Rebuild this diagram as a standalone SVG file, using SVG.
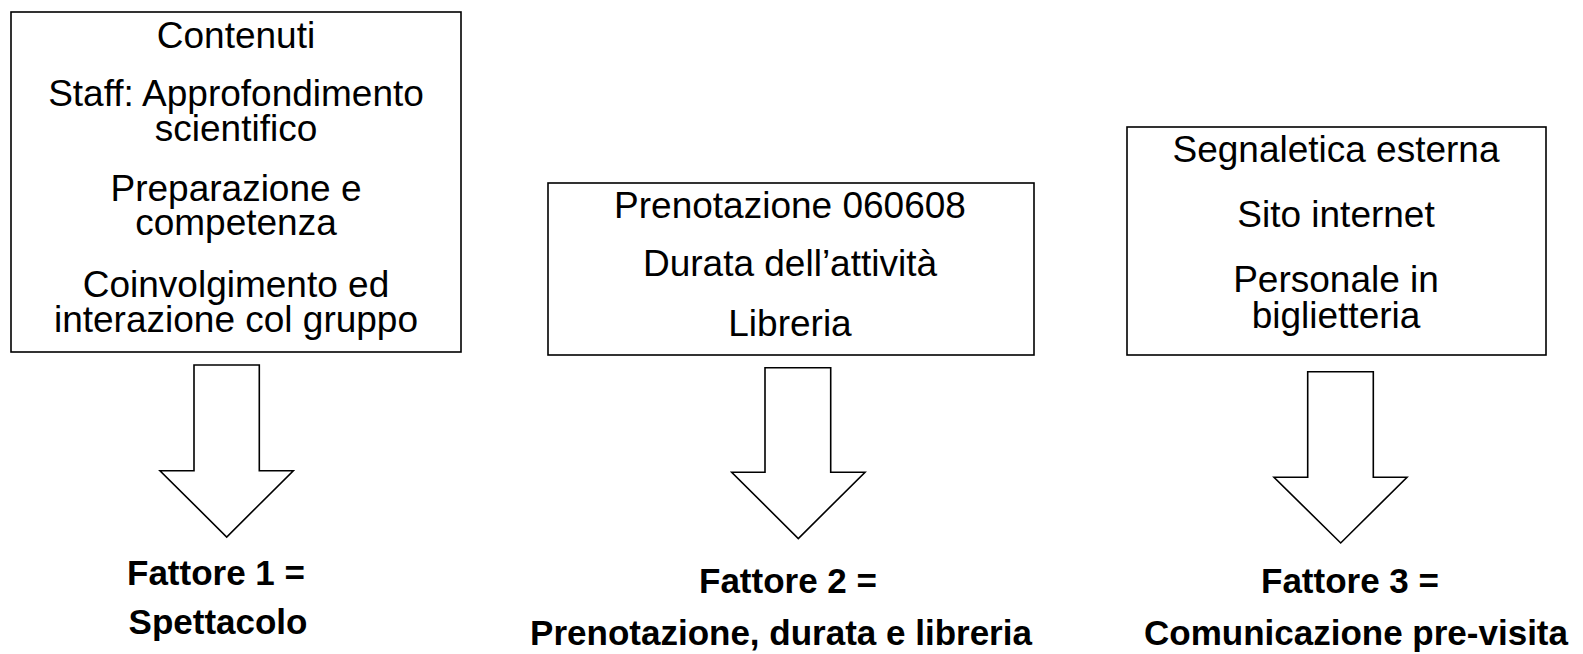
<svg xmlns="http://www.w3.org/2000/svg" width="1583" height="654" viewBox="0 0 1583 654">
<style>
.box{fill:#fff;stroke:#000;stroke-width:1.6}
.arr{fill:#fff;stroke:#000;stroke-width:1.6;stroke-linejoin:miter}
.t{font-family:"Liberation Sans",Arial,sans-serif;font-size:37px;fill:#000;text-anchor:middle}
.b{font-family:"Liberation Sans",Arial,sans-serif;font-size:35px;font-weight:bold;fill:#000;text-anchor:middle}
</style>
<rect width="1583" height="654" fill="#fff"/>
<g id="node-box1">
<rect class="box" x="11" y="12" width="450" height="340"/>
<text class="t" x="236" y="48">Contenuti</text>
<text class="t" x="236" y="106">Staff: Approfondimento</text>
<text class="t" x="236" y="141">scientifico</text>
<text class="t" x="236" y="201">Preparazione e</text>
<text class="t" x="236" y="235">competenza</text>
<text class="t" x="236" y="297">Coinvolgimento ed</text>
<text class="t" x="236" y="332">interazione col gruppo</text>
</g>
<g id="node-box2">
<rect class="box" x="548" y="183" width="486" height="172"/>
<text class="t" x="790" y="218">Prenotazione 060608</text>
<text class="t" x="790" y="276">Durata dell’attività</text>
<text class="t" x="790" y="336">Libreria</text>
</g>
<g id="node-box3">
<rect class="box" x="1127" y="127" width="419" height="228"/>
<text class="t" x="1336" y="162">Segnaletica esterna</text>
<text class="t" x="1336" y="227">Sito internet</text>
<text class="t" x="1336" y="292">Personale in</text>
<text class="t" x="1336" y="328">biglietteria</text>
</g>
<g id="connectors">
<path class="arr" d="M194,365 H259.3 V470.7 H293.3 L226.7,537 L160,470.7 H194 Z"/>
<path class="arr" d="M765,367.7 H830.7 V472.3 H865 L798.3,538.5 L731.7,472.3 H765 Z"/>
<path class="arr" d="M1307.7,371.7 H1373.3 V477.3 H1407 L1340.7,543 L1274,477.3 H1307.7 Z"/>
</g>
<g id="node-label1">
<text class="b" x="216" y="585">Fattore 1 =</text>
<text class="b" x="218" y="634">Spettacolo</text>
</g>
<g id="node-label2">
<text class="b" x="788" y="593">Fattore 2 =</text>
<text class="b" x="781" y="645">Prenotazione, durata e libreria</text>
</g>
<g id="node-label3">
<text class="b" x="1350" y="593">Fattore 3 =</text>
<text class="b" x="1356" y="645">Comunicazione pre-visita</text>
</g>
</svg>
